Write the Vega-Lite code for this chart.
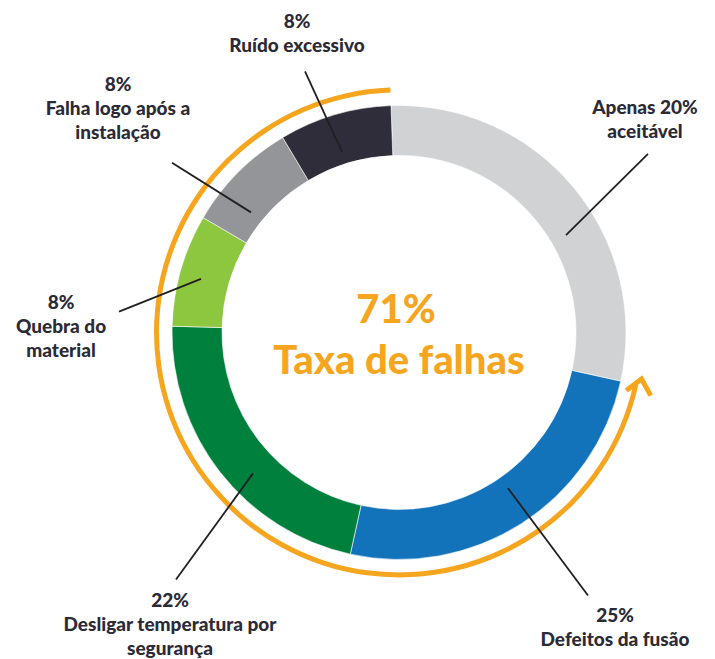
{
  "$schema": "https://vega.github.io/schema/vega-lite/v6.json",
  "width": 715,
  "height": 659,
  "autosize": {"type": "fit", "contains": "padding"},
  "padding": 0,
  "background": "#ffffff",
  "config": {"view": {"stroke": null}},
  "datasets": {
    "segments": [
      {"cat": "Apenas 20% aceitável", "value": 29, "order": 1},
      {"cat": "Defeitos da fusão", "value": 25, "order": 2},
      {"cat": "Desligar temperatura por segurança", "value": 22, "order": 3},
      {"cat": "Quebra do material", "value": 8, "order": 4},
      {"cat": "Falha logo após a instalação", "value": 8, "order": 5},
      {"cat": "Ruído excessivo", "value": 8, "order": 6}
    ],
    "failure": [{"from": 29, "to": 100}],
    "arrow": [{"ax": 241, "ay": -54}],
    "leaders": [
      {"cat": "Ruído excessivo", "x": -94, "y": 263, "x2": -57, "y2": 182},
      {"cat": "Falha logo após a instalação", "x": -227, "y": 171, "x2": -148, "y2": 121},
      {"cat": "Apenas 20% aceitável", "x": 249, "y": 180, "x2": 167, "y2": 98},
      {"cat": "Quebra do material", "x": -280, "y": 21, "x2": -198, "y2": 54},
      {"cat": "Defeitos da fusão", "x": 109, "y": -157, "x2": 189, "y2": -265},
      {"cat": "Desligar temperatura por segurança", "x": -146, "y": -142, "x2": -223, "y2": -249}
    ],
    "labels": [
      {"text": "8%\nRuído excessivo", "lx": -102, "ly": 307},
      {"text": "8%\nFalha logo após a\ninstalação", "lx": -281, "ly": 243},
      {"text": "Apenas 20%\naceitável", "lx": 246, "ly": 220},
      {"text": "8%\nQuebra do\nmaterial", "lx": -338, "ly": 23.5},
      {"text": "25%\nDefeitos da fusão", "lx": 216, "ly": -292},
      {"text": "22%\nDesligar temperatura por\nsegurança", "lx": -229, "ly": -276.5}
    ],
    "center": [
      {"text": "71%", "lx": -3, "ly": 10},
      {"text": "Taxa de falhas", "lx": 0, "ly": -42}
    ]
  },
  "layer": [
    {
      "data": {"name": "segments"},
      "mark": {"type": "arc", "outerRadius": 227, "innerRadius": 177, "stroke": "#ffffff", "strokeWidth": 0.6},
      "encoding": {
        "x": {"datum": 0, "type": "quantitative", "scale": {"domain": [-399, 316], "nice": false, "zero": false}, "axis": null},
        "y": {"datum": 0, "type": "quantitative", "scale": {"domain": [-324, 335], "nice": false, "zero": false}, "axis": null},
        "theta": {"field": "value", "type": "quantitative", "stack": true, "scale": {"domain": [0, 100], "range": [-0.035, 6.248]}},
        "order": {"field": "order", "type": "quantitative"},
        "color": {
          "field": "cat", "type": "nominal", "legend": null,
          "scale": {
            "domain": ["Apenas 20% aceitável", "Defeitos da fusão", "Desligar temperatura por segurança", "Quebra do material", "Falha logo após a instalação", "Ruído excessivo"],
            "range": ["#d1d2d4", "#1273bb", "#00803d", "#8dc63f", "#939598", "#2e2d39"]
          }
        }
      }
    },
    {
      "data": {"name": "failure"},
      "mark": {"type": "arc", "outerRadius": 245, "innerRadius": 240, "color": "#f6a51f"},
      "encoding": {
        "x": {"datum": 0, "type": "quantitative"},
        "y": {"datum": 0, "type": "quantitative"},
        "theta": {"field": "from", "type": "quantitative", "stack": null, "scale": {"domain": [0, 100], "range": [-0.035, 6.248]}},
        "theta2": {"field": "to"}
      }
    },
    {
      "data": {"name": "arrow"},
      "mark": {"type": "point", "shape": "M-1,0.57L0,-0.57L1,0.57", "size": 625, "filled": false, "stroke": "#f6a51f", "strokeWidth": 5, "angle": 12, "opacity": 1},
      "encoding": {
        "x": {"field": "ax", "type": "quantitative"},
        "y": {"field": "ay", "type": "quantitative"}
      }
    },
    {
      "data": {"name": "leaders"},
      "mark": {"type": "rule", "color": "#231f20", "strokeWidth": 1.8},
      "encoding": {
        "x": {"field": "x", "type": "quantitative"},
        "y": {"field": "y", "type": "quantitative"},
        "x2": {"field": "x2"},
        "y2": {"field": "y2"}
      }
    },
    {
      "data": {"name": "labels"},
      "mark": {"type": "text", "font": "Lato", "fontWeight": 900, "fontSize": 19, "color": "#2b2a36", "align": "center", "baseline": "alphabetic", "lineBreak": "\n", "lineHeight": 24},
      "encoding": {
        "x": {"field": "lx", "type": "quantitative"},
        "y": {"field": "ly", "type": "quantitative"},
        "text": {"field": "text"}
      }
    },
    {
      "data": {"name": "center"},
      "mark": {"type": "text", "font": "Lato", "fontWeight": 900, "fontSize": 40, "color": "#f6a51f", "align": "center", "baseline": "alphabetic"},
      "encoding": {
        "x": {"field": "lx", "type": "quantitative"},
        "y": {"field": "ly", "type": "quantitative"},
        "text": {"field": "text"}
      }
    }
  ]
}
